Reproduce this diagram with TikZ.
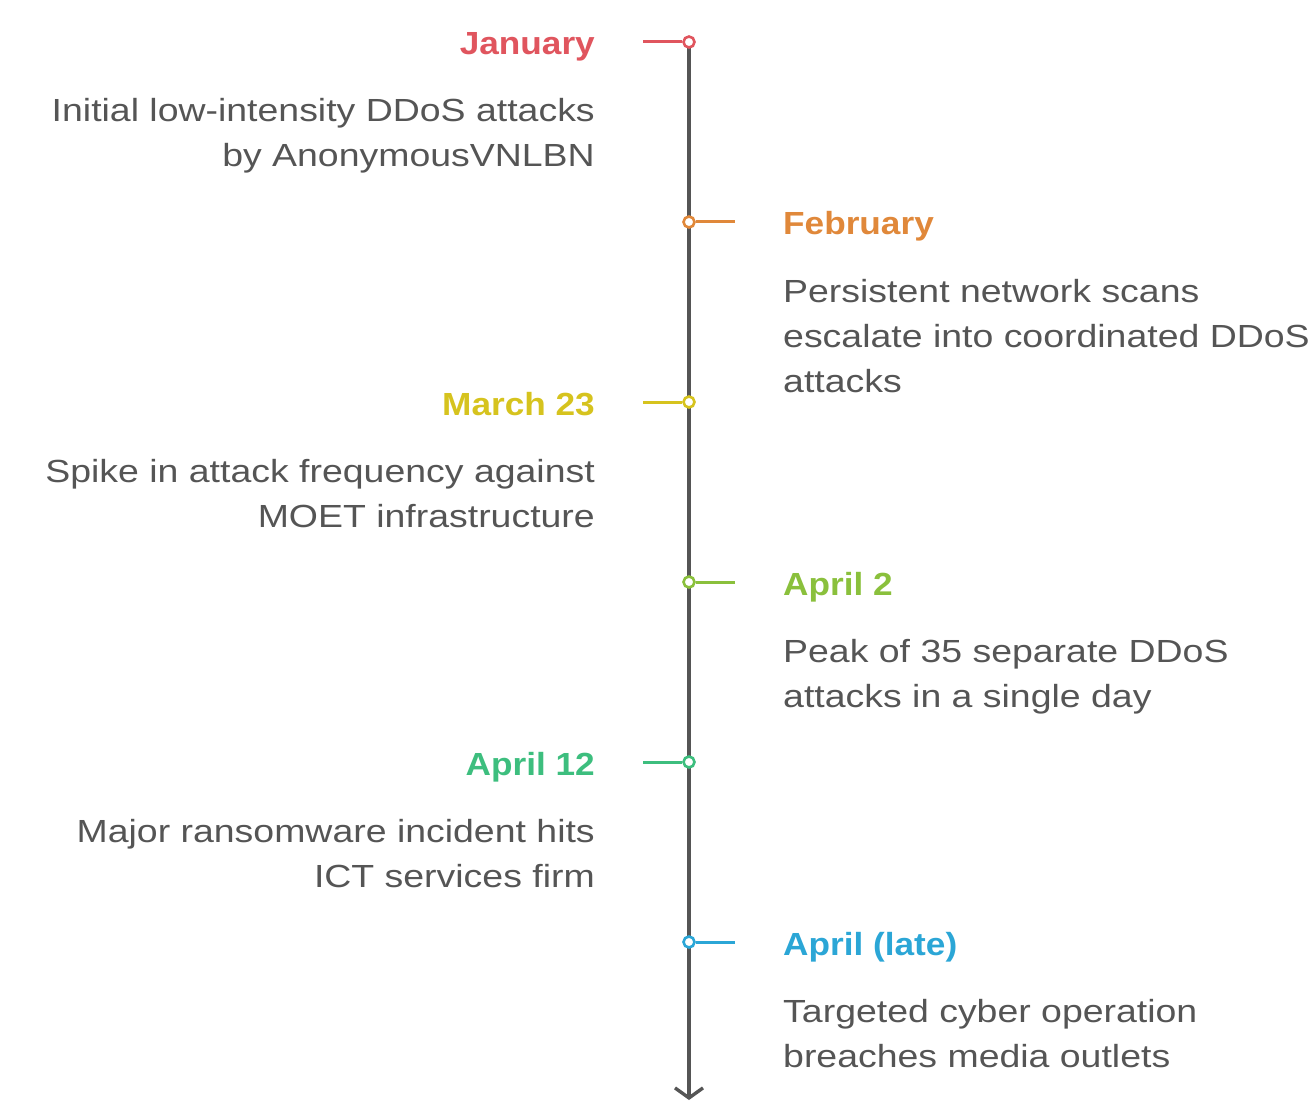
\documentclass[tikz,border=0pt]{standalone}
\usepackage{fontspec}
\setmainfont{Liberation Sans}[FakeStretch=1.17]
\newfontfamily\titlefont{Liberation Sans}[FakeStretch=1.10]
\usetikzlibrary{arrows.meta}
\definecolor{cjan}{HTML}{E0555E}
\definecolor{cfeb}{HTML}{E0883A}
\definecolor{cmar}{HTML}{D6C31E}
\definecolor{capa}{HTML}{8AC03C}
\definecolor{capb}{HTML}{3DBE7E}
\definecolor{capc}{HTML}{2BA6D6}
\definecolor{bodygray}{HTML}{555555}
\definecolor{linegray}{HTML}{555555}
\begin{document}
\begin{tikzpicture}[x=1pt,y=-1pt,
  marker/.style={circle,draw=#1,fill=white,line width=2.6pt,minimum size=11pt,inner sep=0pt},
  tick/.style={draw=#1,line width=3pt},
  ttl/.style={text=#1,font=\titlefont\bfseries\fontsize{32}{38}\selectfont,inner sep=0pt},
  body/.style={text=bodygray,font=\fontsize{32}{45}\selectfont,inner sep=0pt},
  spine/.style={draw=linegray,line width=3.4pt}]
\useasboundingbox (0,0) rectangle (1312,1102);
\coordinate (top) at (689,42);
\coordinate (bot) at (689,1100);
\draw[spine,-{Straight Barb[length=10pt,width=28pt,line width=3.4pt]}] (top) -- (bot);
% markers
\node[marker=cjan] (m1) at (689,42) {};
\node[marker=cfeb] (m2) at (689,222) {};
\node[marker=cmar] (m3) at (689,402) {};
\node[marker=capa] (m4) at (689,582) {};
\node[marker=capb] (m5) at (689,762) {};
\node[marker=capc] (m6) at (689,942) {};
% ticks
\coordinate (k1) at (643,42);
\coordinate (k2) at (735,222);
\coordinate (k3) at (643,402);
\coordinate (k4) at (735,582);
\coordinate (k5) at (643,762);
\coordinate (k6) at (735,942);
\draw[tick=cjan] (m1.west) -- (k1);
\draw[tick=cfeb] (m2.east) -- (k2);
\draw[tick=cmar] (m3.west) -- (k3);
\draw[tick=capa] (m4.east) -- (k4);
\draw[tick=capb] (m5.west) -- (k5);
\draw[tick=capc] (m6.east) -- (k6);
% titles
\node[ttl=cjan,anchor=base east] (t1) at (595,55) {January};
\node[ttl=cfeb,anchor=base west] (t2) at (783,235) {February};
\node[ttl=cmar,anchor=base east] (t3) at (595,415) {March 23};
\node[ttl=capa,anchor=base west] (t4) at (783,595) {April 2};
\node[ttl=capb,anchor=base east] (t5) at (595,775) {April 12};
\node[ttl=capc,anchor=base west] (t6) at (783,955) {April (late)};
% bodies (base anchor = baseline of last line)
\node[body,align=right,anchor=base east] (b1) at (595,167) {Initial low-intensity DDoS attacks\\by AnonymousVNLBN};
\node[body,align=left,anchor=base west] (b2) at (783,392) {Persistent network scans\\escalate into coordinated DDoS\\attacks};
\node[body,align=right,anchor=base east] (b3) at (595,527) {Spike in attack frequency against\\MOET infrastructure};
\node[body,align=left,anchor=base west] (b4) at (783,707) {Peak of 35 separate DDoS\\attacks in a single day};
\node[body,align=right,anchor=base east] (b5) at (595,887) {Major ransomware incident hits\\ICT services firm};
\node[body,align=left,anchor=base west] (b6) at (783,1067) {Targeted cyber operation\\breaches media outlets};
\end{tikzpicture}
\end{document}
